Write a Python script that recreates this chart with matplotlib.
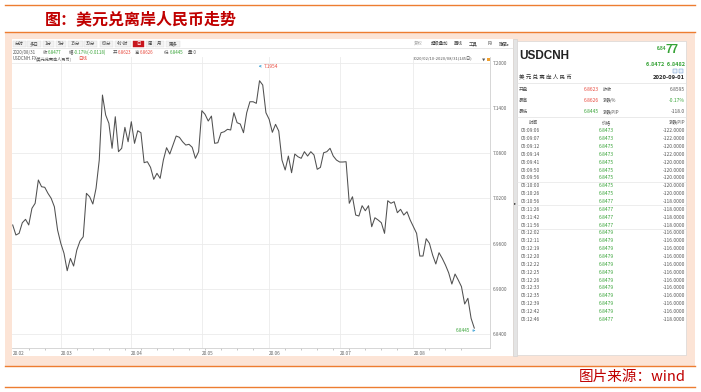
import numpy as np
import matplotlib.pyplot as plt
from matplotlib.patches import Rectangle

plt.rcParams['font.family'] = ['Noto Sans CJK SC', 'DejaVu Sans']

# 日线收盘价 2020/02/10 - 2020/08/31 (145日)
close = [6.9846, 6.9713, 6.9735, 6.9876, 6.9921, 6.9846, 7.0067, 7.0134, 7.0443, 7.0354,
         7.0346, 7.0266, 7.0200, 7.0088, 6.9779, 6.9603, 6.9470, 6.9239, 6.9403, 6.9301,
         6.9514, 6.9633, 6.9690, 7.0266, 7.0221, 7.0124, 7.0333, 7.0708, 7.1571, 7.1306,
         7.1196, 7.0864, 7.1283, 7.0819, 7.0864, 7.1142, 7.0951, 7.1217, 7.0930, 7.1097,
         7.1071, 7.0673, 7.0686, 7.0611, 7.0452, 7.0532, 7.0465, 7.0708, 7.0872, 7.0788,
         7.0907, 7.1027, 7.1010, 7.0951, 7.0907, 7.0917, 7.0877, 7.0731, 7.0819, 7.1363,
         7.1315, 7.1226, 7.1292, 7.0930, 7.0938, 7.1071, 7.1084, 7.1116, 7.1107, 7.1336,
         7.1204, 7.1186, 7.1071, 7.1336, 7.1482, 7.1482, 7.1461, 7.1761, 7.1704, 7.1336,
         7.1249, 7.1076, 7.1182, 7.1093, 7.0708, 7.0576, 7.0761, 7.0540, 7.0788, 7.0752,
         7.0731, 7.0819, 7.0761, 7.0819, 7.0775, 7.0585, 7.0611, 7.0805, 7.0819, 7.0864,
         7.0761, 7.0708, 7.0682, 7.0682, 7.0686, 7.0134, 7.0221, 6.9978, 6.9965, 7.0102,
         7.0035, 7.0102, 6.9823, 6.9942, 6.9912, 6.9876, 6.9735, 7.0168, 7.0134, 7.0155,
         7.0009, 7.0054, 6.9978, 7.0022, 6.9912, 6.9823, 6.9735, 6.9434, 6.9434, 6.9664,
         6.9603, 6.9447, 6.9328, 6.9478, 6.9403, 6.9315, 6.9212, 6.9062, 6.9195, 6.9115,
         6.9027, 6.8797, 6.8873, 6.8607, 6.8477]
month_labels = ['20.02', '20.03', '20.04', '20.05', '20.06', '20.07', '20.08']
month_start = [0, 15, 37, 59, 80, 102, 125]
y_ticks = [6.84, 6.90, 6.96, 7.02, 7.08, 7.14, 7.20]
period_high = 7.1954
period_low = 6.8445

# 报价
q_date = '2020/08/31'
q_close = 6.8477
q_open = 6.8623
q_high = 6.8626
q_low = 6.8445
q_prev = 6.8595
q_pct = -0.17
q_chg = -0.0118
q_pip = -118.0
bid, ask = 6.8472, 6.8482

# 分笔成交
tick_time = ['05:09:06', '05:09:07', '05:09:12', '05:09:14', '05:09:41', '05:09:50', '05:09:56',
             '05:10:00', '05:10:26', '05:10:56', '05:11:26', '05:11:42', '05:11:56', '05:12:02',
             '05:12:11', '05:12:19', '05:12:20', '05:12:22', '05:12:25', '05:12:26', '05:12:33',
             '05:12:35', '05:12:39', '05:12:42', '05:12:46']
tick_price = [6.8473, 6.8473, 6.8475, 6.8473, 6.8475, 6.8475, 6.8475, 6.8475, 6.8475, 6.8477,
              6.8477, 6.8477, 6.8477, 6.8479, 6.8479, 6.8479, 6.8479, 6.8479, 6.8479, 6.8479,
              6.8479, 6.8479, 6.8479, 6.8479, 6.8477]
tick_pip = [-122, -122, -120, -122, -120, -120, -120, -120, -120, -118, -118, -118, -118,
            -116, -116, -116, -116, -116, -116, -116, -116, -116, -116, -116, -118]

toolbar = ['分时', '多日', '1分', '5分', '15分', '30分', '60分', '4小时', '日', '周', '月', '更多']
toolbar_right = ['复权', '超级叠加', '画线', '工具', 'F9', '隐藏▸']

ORANGE = '#ED7D31'
PEACH = '#FCE4D6'
DARKRED = '#C00000'
RED = '#E8473B'
GREEN = '#36A336'
GRAY = '#555555'

W, H = 701, 392
fig = plt.figure(figsize=(W / 100, H / 100), dpi=100)
bg = fig.add_axes([0, 0, 1, 1])
bg.set_xlim(0, W)
bg.set_ylim(H, 0)
bg.axis('off')


def box(x0, y0, x1, y1, **kw):
    bg.add_patch(Rectangle((x0, y0), x1 - x0, y1 - y0, **kw))


def txt(x, y, s, size=3.3, color=GRAY, ha='left', **kw):
    bg.text(x, y, s, fontsize=size, color=color, ha=ha, va='center', **kw)


# 外框
box(5, 32, 695, 366, facecolor=PEACH, edgecolor='none')
for yy in [5, 32, 366, 387]:
    bg.plot([5, 695], [yy, yy], color=ORANGE, lw=1.0)
txt(45, 19.5, '图：美元兑离岸人民币走势', size=11.5, color=DARKRED, fontweight='bold')
txt(686, 377, '图片来源：wind', size=10.5, color=DARKRED, ha='right')

# K线面板
box(12, 39, 513, 356, facecolor='white', edgecolor='none')
box(513, 39, 517, 356, facecolor='#E4E4E4', edgecolor='#CFCFCF', lw=0.4)
txt(514, 203, '▸', size=3, color='#222')

btn_x = [(12.7, 26), (26.7, 40.7), (42.7, 54), (56, 65.7), (68, 82.7), (84, 97),
         (100, 113), (115, 131), (133, 144), (145.7, 154), (155, 164), (166, 180)]
for lab, (x0, x1) in zip(toolbar, btn_x):
    on = lab == '日'
    box(x0, 40.5, x1, 46.7, facecolor='#C8161D' if on else '#F2F2F2',
        edgecolor='#C8161D' if on else '#D9D9D9', lw=0.3)
    txt((x0 + x1) / 2, 43.6, lab, size=3.2, color='white' if on else '#444', ha='center')
for lab, xx in zip(toolbar_right, [418, 440, 458, 473, 490, 504]):
    txt(xx, 43.6, lab, size=3.2, color='#AAAAAA' if lab == '复权' else '#444', ha='center')
bg.plot([12, 513], [48.3, 48.3], color='#DDDDDD', lw=0.5)

info = [(12.7, q_date, GRAY), (43, '收', GRAY), (48, f'{q_close:.4f}', GREEN),
        (68.5, '幅', GRAY), (74, f'{q_pct:.2f}%({q_chg:.4f})', GREEN),
        (113, '开', GRAY), (118, f'{q_open:.4f}', RED), (135, '高', GRAY),
        (140, f'{q_high:.4f}', RED), (164, '低', GRAY), (169.5, f'{q_low:.4f}', GREEN),
        (188, '量 0', GRAY)]
for xx, s, c in info:
    txt(xx, 52, s, size=3.2, color=c)
txt(12.7, 58.5, 'USDCNH.FX', size=3.2, color=GRAY)
txt(35, 58.5, '[美元兑离岸人民币]', size=3.0, color=GRAY)
txt(78, 58.5, '日线', size=3.2, color=RED)
txt(413, 59.3, '2020/02/10-2020/08/31(145日)', size=3.0, color=GRAY)
txt(482, 59.3, '▼', size=2.4, color=GRAY)
box(486.5, 57.5, 489.5, 60.8, facecolor='#F0A030', edgecolor='none')

# 主图
n = len(close)
ax = fig.add_axes([12 / W, 1 - 348 / H, (490 - 12) / W, (348 - 57) / H])
ax.set_facecolor('none')
ax.plot(np.arange(n), close, color='#505050', lw=0.75, zorder=3)
ax.set_xlim(-0.22, 148.9)
ax.set_ylim(6.8213, 7.2076)
for v in y_ticks:
    ax.axhline(v, color='#EBEBEB', lw=0.6, zorder=1)
for i in month_start[1:]:
    ax.axvline(i, color='#EBEBEB', lw=0.6, zorder=1)
ax.set_yticks(y_ticks)
ax.set_yticklabels([f'{v:.4f}' for v in y_ticks])
ax.yaxis.tick_right()
ax.tick_params(axis='y', length=0, pad=2, labelsize=3.4, labelcolor='#666')
ax.set_xticks(month_start)
ax.set_xticklabels(month_labels, ha='left')
ax.set_xticks(np.arange(5, n, 5), minor=True)
ax.tick_params(axis='x', which='major', length=0, pad=2, labelsize=3.4, labelcolor='#666')
ax.tick_params(axis='x', which='minor', length=1.5, width=0.4, color='#999')
for s in ['top', 'left']:
    ax.spines[s].set_visible(False)
for s in ['right', 'bottom']:
    ax.spines[s].set_color('#D0D0D0')
    ax.spines[s].set_linewidth(0.6)

hi_i = int(np.argmax(close))
ax.annotate(f'{period_high:.4f}', xy=(hi_i - 0.3, period_high), xytext=(hi_i + 1.3, period_high),
            fontsize=3.4, color=RED, va='center', ha='left',
            arrowprops=dict(arrowstyle='->', color='#4AA8D8', lw=0.5, shrinkA=0, shrinkB=0))
ax.annotate(f'{period_low:.4f}', xy=(n - 0.6, period_low), xytext=(n - 2.4, period_low),
            fontsize=3.4, color=GREEN, va='center', ha='right',
            arrowprops=dict(arrowstyle='->', color='#4AA8D8', lw=0.5, shrinkA=0, shrinkB=0))

# 右侧报价面板
box(517, 41, 686, 355, facecolor='white', edgecolor='#D0D0D0', lw=0.4)
bg.text(519, 56, 'USDCNH', fontsize=8.5, fontweight='bold', color='#222',
        family='Liberation Sans', va='center')
last = f'{q_close:.4f}'
bg.text(666, 50, last[:4], fontsize=3.4, fontweight='bold', color=GREEN, ha='right', va='baseline',
        family='Liberation Sans')
bg.text(678, 53.3, last[4:], fontsize=8.5, fontweight='bold', color=GREEN, ha='right', va='baseline',
        family='Liberation Sans')
txt(685, 64, f'{bid:.4f}  {ask:.4f}', size=4, color=GREEN, ha='right', fontweight='bold')
box(673, 68.5, 677, 72.5, facecolor='#EAF2FB', edgecolor='#5B8CC8', lw=0.3)
box(678.5, 68.5, 682.5, 72.5, facecolor='#EAF2FB', edgecolor='#5B8CC8', lw=0.3)
txt(519, 77, '美 元 兑 离 岸 人 民 币', size=4.0, color='#333')
txt(685, 77, '2020-09-01', size=4.2, color='#222', ha='right', fontweight='bold')
bg.plot([517, 686], [83, 83], color='#E2E2E2', lw=0.5)

rows = [('开盘', f'{q_open:.4f}', RED, '昨收', f'{q_prev:.4f}', GRAY),
        ('最高', f'{q_high:.4f}', RED, '涨跌%', f'{q_pct:.2f}%', GREEN),
        ('最低', f'{q_low:.4f}', GREEN, '涨跌PIP', f'{q_pip:.1f}', GRAY)]
for k, (l1, v1, c1, l2, v2, c2) in enumerate(rows):
    yy = 89 + k * 11.35
    txt(519, yy, l1)
    txt(599, yy, v1, size=3.5, color=c1, ha='right')
    txt(603, yy, l2)
    txt(685, yy, v2, size=3.5, color=c2, ha='right')
bg.plot([517, 686], [117, 117], color='#E2E2E2', lw=0.5)

txt(533, 122.3, '时间', ha='center')
txt(606, 122.3, '价格', ha='center')
txt(685, 122.3, '涨跌PIP', ha='right')
step = 7.86
for k, (t, p, d) in enumerate(zip(tick_time, tick_price, tick_pip)):
    yy = 130.7 + k * step
    if k > 0 and t[:5] != tick_time[k - 1][:5]:
        bg.plot([517, 686], [yy - step / 2, yy - step / 2], color='#E6E6E6', lw=0.5)
    txt(521, yy, t, size=3.5)
    txt(606, yy, f'{p:.4f}', size=3.5, color=GREEN, ha='center')
    txt(685, yy, f'{d:.4f}', size=3.5, ha='right')

fig.savefig('out.png', dpi=100)
